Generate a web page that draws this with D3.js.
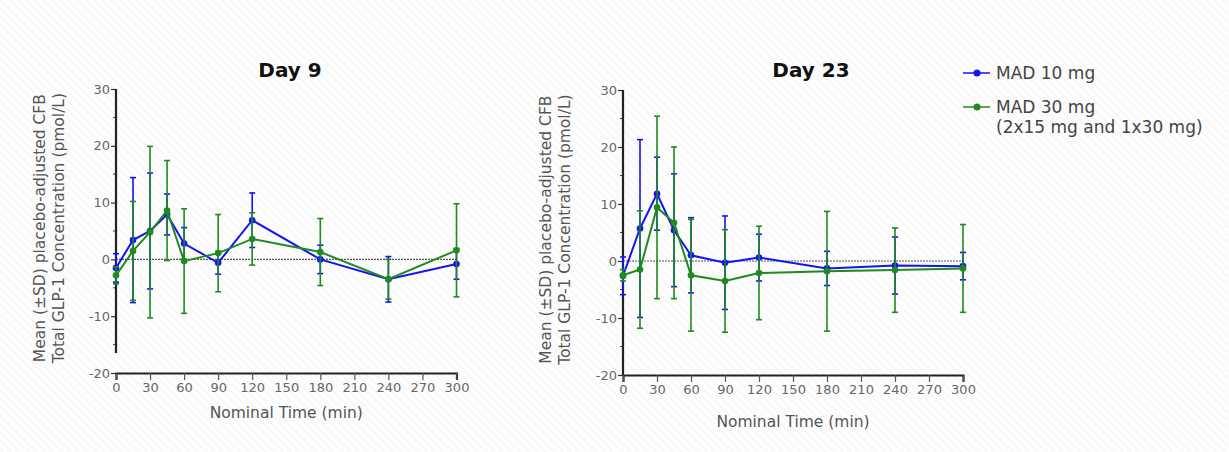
<!DOCTYPE html>
<html>
<head>
<meta charset="utf-8">
<script src="https://cdn.jsdelivr.net/npm/d3@7"></script>
<style>
  body { margin: 0; background: #fff; }
  svg { display: block; font-family: "DejaVu Sans", "Open Sans", sans-serif; }
  .tick text { fill: #666; font-size: 13px; font-family: "DejaVu Sans", sans-serif; }
  .aText { fill: #555; font-size: 15.5px; }
  .title { fill: #111; font-size: 20px; font-weight: bold; }
  .legText { fill: #444; font-size: 17px; }
</style>
</head>
<body>
<script>
var svgWidth = 1229;
var svgHeight = 452;

// nominal sampling times (min)
var times = [0, 15, 30, 45, 60, 90, 120, 180, 240, 300];
var xTicks = [0, 30, 60, 90, 120, 150, 180, 210, 240, 270, 300];
var yTicks = [30, 20, 10, 0, -10, -20];
var seriesNames = ["MAD 10 mg", "MAD 30 mg"];

// Day 9 mean and SD
var day9Mad10 = [-1.5, 3.4, 5.0, 7.9, 2.8, -0.6, 6.9, 0.0, -3.5, -0.8];
var day9Mad10Sd = [2.5, 11.0, 10.2, 3.6, 2.8, 2.0, 4.8, 2.5, 4.0, 2.7];
var day9Mad30 = [-2.8, 1.5, 4.8, 8.6, -0.3, 1.1, 3.6, 1.3, -3.5, 1.6];
var day9Mad30Sd = [1.5, 8.7, 15.1, 8.8, 9.2, 6.8, 4.6, 5.9, 3.5, 8.2];

// Day 23 mean and SD
var day23Mad10 = [-2.6, 5.7, 11.8, 5.4, 1.0, -0.3, 0.6, -1.3, -0.8, -0.9];
var day23Mad10Sd = [3.3, 15.6, 6.4, 9.9, 6.6, 8.2, 4.1, 3.0, 5.0, 2.4];
var day23Mad30 = [-2.5, -1.5, 9.4, 6.7, -2.5, -3.5, -2.1, -1.8, -1.6, -1.3];
var day23Mad30Sd = [1.0, 10.3, 16.0, 13.3, 9.8, 9.0, 8.2, 10.5, 7.4, 7.7];

var blue = "#1414f0";
var green = "#1f8a1f";

var svg = d3.select("body")
    .append("svg")
    .attr("width", svgWidth)
    .attr("height", svgHeight);

// faint hatched background
var pat = svg.append("defs").append("pattern")
    .attr("id", "hatch")
    .attr("width", 6).attr("height", 6)
    .attr("patternUnits", "userSpaceOnUse")
    .attr("patternTransform", "rotate(-45)");
pat.append("rect").attr("width", 6).attr("height", 6).attr("fill", "#fdfdfd");
pat.append("line").attr("x1", 0).attr("y1", 0).attr("x2", 0).attr("y2", 6)
    .attr("stroke", "#f1f1f1").attr("stroke-width", 1.5);
svg.append("rect").attr("width", svgWidth).attr("height", svgHeight).attr("fill", "url(#hatch)");

function drawPanel(opts) {
    var x = d3.scaleLinear().domain([0, 300]).range([opts.left, opts.right]);
    var y = d3.scaleLinear().domain([-20, 30]).range([opts.bottom, opts.top]);
    var g = svg.append("g");

    // title
    g.append("text")
        .attr("class", "title")
        .attr("x", opts.titleX)
        .attr("y", 77)
        .attr("text-anchor", "middle")
        .text(opts.title);

    // y axis
    var leftAxis = d3.axisLeft(y).tickValues(yTicks).tickSize(5).tickPadding(1);
    var yg = g.append("g")
        .attr("transform", `translate(${opts.left}, 0)`)
        .call(leftAxis);
    yg.select(".domain").remove();
    yg.selectAll(".tick line").attr("stroke", "#333").attr("stroke-width", 1.2);
    yg.selectAll(".tick text").text(d => d < 0 ? "-" + Math.abs(d) : d);

    // minor ticks
    g.selectAll(".minor")
        .data(d3.range(-15, 30, 10))
        .enter()
        .append("line")
        .attr("x1", opts.left - 3)
        .attr("x2", opts.left)
        .attr("y1", d => y(d))
        .attr("y2", d => y(d))
        .attr("stroke", "#444");

    // y spine
    g.append("line")
        .attr("x1", opts.left).attr("x2", opts.left)
        .attr("y1", y(30)).attr("y2", y(opts.spineEnd))
        .attr("stroke", "#222").attr("stroke-width", 2.2);

    // x axis
    var bottomAxis = d3.axisBottom(x).tickValues(xTicks).tickSize(7).tickPadding(3);
    var xg = g.append("g")
        .attr("transform", `translate(0, ${opts.bottom})`)
        .call(bottomAxis);
    xg.select(".domain").attr("stroke", "#222").attr("stroke-width", 2.2);
    xg.selectAll(".tick line").attr("stroke", "#555").attr("stroke-width", 1.2);

    // zero reference line
    g.append("line")
        .attr("x1", x(0)).attr("x2", x(300))
        .attr("y1", y(0)).attr("y2", y(0))
        .attr("stroke", "#555").attr("stroke-width", 1.2)
        .attr("stroke-dasharray", "2,1");

    // axis labels
    g.append("text")
        .attr("class", "aText")
        .attr("transform", `translate(${opts.labelX}, ${y(5.5)}) rotate(-90)`)
        .attr("text-anchor", "middle")
        .text("Mean (\u00B1SD) placebo-adjusted CFB");
    g.append("text")
        .attr("class", "aText")
        .attr("transform", `translate(${opts.labelX + 19}, ${y(5.5)}) rotate(-90)`)
        .attr("text-anchor", "middle")
        .text("Total GLP-1 Concentration (pmol/L)");

    g.append("text")
        .attr("class", "aText")
        .attr("x", (opts.left + opts.right) / 2)
        .attr("y", opts.xLabelY)
        .attr("text-anchor", "middle")
        .text("Nominal Time (min)");

    var line = d3.line()
        .x(d => x(d.t))
        .y(d => y(d.v));

    opts.series.forEach(function(s) {
        var data = times.map((t, i) => ({ t: t, v: s.values[i], sd: s.sd[i] }));
        var sg = g.append("g");

        // error bars
        sg.selectAll(".err")
            .data(data)
            .enter()
            .append("line")
            .attr("x1", d => x(d.t)).attr("x2", d => x(d.t))
            .attr("y1", d => y(d.v + d.sd)).attr("y2", d => y(d.v - d.sd))
            .attr("stroke", s.color).attr("stroke-width", 1.6);
        sg.selectAll(".capTop")
            .data(data)
            .enter()
            .append("line")
            .attr("x1", d => x(d.t) - 3).attr("x2", d => x(d.t) + 3)
            .attr("y1", d => y(d.v + d.sd)).attr("y2", d => y(d.v + d.sd))
            .attr("stroke", s.color).attr("stroke-width", 1.6);
        sg.selectAll(".capBot")
            .data(data)
            .enter()
            .append("line")
            .attr("x1", d => x(d.t) - 3).attr("x2", d => x(d.t) + 3)
            .attr("y1", d => y(d.v - d.sd)).attr("y2", d => y(d.v - d.sd))
            .attr("stroke", s.color).attr("stroke-width", 1.6);

        sg.append("path")
            .datum(data)
            .attr("d", line)
            .attr("fill", "none")
            .attr("stroke", s.color)
            .attr("stroke-width", 2);

        sg.selectAll("circle")
            .data(data)
            .enter()
            .append("circle")
            .attr("cx", d => x(d.t))
            .attr("cy", d => y(d.v))
            .attr("r", 3.3)
            .attr("fill", s.color);
    });
}

drawPanel({
    title: "Day 9", titleX: 290,
    left: 116, right: 456.5, top: 89, bottom: 373,
    spineEnd: -16.5, labelX: 45, xLabelY: 418,
    series: [
        { values: day9Mad10, sd: day9Mad10Sd, color: blue },
        { values: day9Mad30, sd: day9Mad30Sd, color: green }
    ]
});

drawPanel({
    title: "Day 23", titleX: 811,
    left: 623, right: 963, top: 90, bottom: 375,
    spineEnd: -20, labelX: 551, xLabelY: 427,
    series: [
        { values: day23Mad10, sd: day23Mad10Sd, color: blue },
        { values: day23Mad30, sd: day23Mad30Sd, color: green }
    ]
});

// legend
var legend = svg.append("g");
var legendItems = [
    { name: seriesNames[0], color: blue, y: 73, extra: null },
    { name: seriesNames[1], color: green, y: 107, extra: "(2x15 mg and 1x30 mg)" }
];
legendItems.forEach(function(item) {
    legend.append("line")
        .attr("x1", 963).attr("x2", 990)
        .attr("y1", item.y).attr("y2", item.y)
        .attr("stroke", item.color).attr("stroke-width", 1.5);
    legend.append("circle")
        .attr("cx", 977).attr("cy", item.y).attr("r", 3.5)
        .attr("fill", item.color);
    legend.append("text")
        .attr("class", "legText")
        .attr("x", 996).attr("y", item.y + 6)
        .text(item.name);
    if (item.extra) {
        legend.append("text")
            .attr("class", "legText")
            .attr("x", 996).attr("y", item.y + 26)
            .text(item.extra);
    }
});
</script>
</body>
</html>
